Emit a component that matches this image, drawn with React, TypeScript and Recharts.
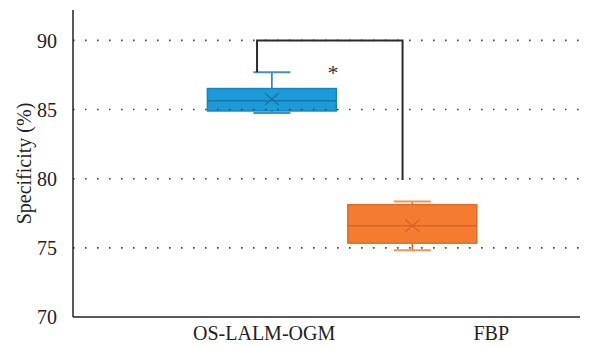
import React from "react";
import {
  ComposedChart,
  Bar,
  Scatter,
  XAxis,
  YAxis,
  ReferenceLine,
  ReferenceDot,
} from "recharts";

// groups and their five-number summaries (Specificity, %)
const categories = ["OS-LALM-OGM", "FBP"];
const boxPos = [3.92, 6.69];
const labelPos = [3.77, 8.25];
const whiskerLow = [84.76, 74.83];
const q1 = [84.9, 75.34];
const median = [85.63, 76.59];
const q3 = [86.52, 78.12];
const whiskerHigh = [87.7, 78.36];
const mean = [85.77, 76.6];

const yTicks = [70, 75, 80, 85, 90];
const gridLines = [75, 80, 85, 90];

// significance bracket between the two groups
const bracketX = [3.63, 3.63, 6.5, 6.5];
const bracketY = [87.7, 90, 90, 79.9];
const star = { x: 5.13, y: 87.7 };

const palette = [
  { fill: "#1b9bd8", edge: "#1784c0", dark: "#1a72a8", cap: "#3a93c8" },
  { fill: "#f47c30", edge: "#de6d28", dark: "#d2642a", cap: "#f0935c" },
];

const data = categories.map((name, i) => ({
  name,
  x: boxPos[i],
  lo: whiskerLow[i],
  q1: q1[i],
  med: median[i],
  q3: q3[i],
  hi: whiskerHigh[i],
  mean: mean[i],
  idx: i,
}));

const bracket = bracketX.map((x, i) => ({ x, y: bracketY[i] }));

const FONT = "'Liberation Serif', serif";
const BOX_W = 129;

function BoxShape(props: any) {
  const { x, y, width, height, payload } = props;
  if (!payload) return null;
  const top = Math.min(y, y + height);
  const h = Math.abs(height);
  const span = payload.hi - payload.lo;
  const py = (v: number) => top + ((payload.hi - v) / span) * h;
  const c = palette[payload.idx];
  const cx = x + width / 2;
  const bx = cx - BOX_W / 2;
  const capW = 37;
  const m = py(payload.mean);
  return (
    <g>
      <line x1={cx} x2={cx} y1={py(payload.hi)} y2={py(payload.q3)} stroke={c.dark} strokeWidth={1.5} />
      <line x1={cx} x2={cx} y1={py(payload.q1)} y2={py(payload.lo)} stroke={c.dark} strokeWidth={1.5} />
      <line x1={cx - capW / 2} x2={cx + capW / 2} y1={py(payload.hi)} y2={py(payload.hi)} stroke={c.cap} strokeWidth={2} />
      <line x1={cx - capW / 2} x2={cx + capW / 2} y1={py(payload.lo)} y2={py(payload.lo)} stroke={c.cap} strokeWidth={2} />
      <rect
        x={bx}
        y={py(payload.q3)}
        width={BOX_W}
        height={py(payload.q1) - py(payload.q3)}
        fill={c.fill}
        stroke={c.edge}
        strokeWidth={1.5}
      />
      <line x1={bx} x2={bx + BOX_W} y1={py(payload.med)} y2={py(payload.med)} stroke={c.dark} strokeWidth={1.5} />
      <line x1={cx - 7} x2={cx + 7} y1={m - 6} y2={m + 6} stroke={c.dark} strokeWidth={1.3} />
      <line x1={cx - 7} x2={cx + 7} y1={m + 6} y2={m - 6} stroke={c.dark} strokeWidth={1.3} />
    </g>
  );
}

export default function App() {
  return (
    <div
      style={{
        position: "absolute",
        left: 0,
        top: 0,
        width: 595,
        height: 347,
        background: "#fff",
        fontFamily: FONT,
      }}
    >
      <ComposedChart
        width={595}
        height={347}
        data={data}
        margin={{ top: 10, right: 15, bottom: 0, left: 0 }}
        style={{ fontFamily: FONT }}
      >
        <XAxis
          dataKey="x"
          type="number"
          domain={[0, 10]}
          ticks={labelPos}
          tickFormatter={(v: number) => categories[labelPos.indexOf(v)] ?? ""}
          tickLine={false}
          axisLine={{ stroke: "#222", strokeWidth: 1.5 }}
          tick={{ fill: "#222", fontSize: 20, fontFamily: FONT }}
          tickMargin={3}
          height={30}
        />
        <YAxis
          type="number"
          domain={[70, 92.2]}
          ticks={yTicks}
          allowDataOverflow
          tickLine={false}
          axisLine={{ stroke: "#222", strokeWidth: 1.5 }}
          tick={{ fill: "#222", fontSize: 20, fontFamily: FONT }}
          tickMargin={10}
          width={73}
          label={{
            value: "Specificity (%)",
            angle: -90,
            position: "insideLeft",
            dx: 19,
            dy: 0,
            style: { textAnchor: "middle", fill: "#222", fontSize: 20, fontFamily: FONT },
          }}
        />
        <Bar
          dataKey={(d: any) => [d.lo, d.hi]}
          shape={<BoxShape />}
          isAnimationActive={false}
        />
        {gridLines.map((v) => (
          <ReferenceLine
            key={v}
            y={v}
            stroke="#444"
            strokeWidth={1.6}
            strokeDasharray="1.6 10.4"
          />
        ))}
        <Scatter
          data={bracket}
          dataKey="y"
          line={{ stroke: "#2b2b2b", strokeWidth: 2 }}
          lineType="joint"
          shape={() => null}
          isAnimationActive={false}
        />
        <ReferenceDot
          x={star.x}
          y={star.y}
          r={0}
          stroke="none"
          label={{ value: "*", position: "center", fill: "#333", fontSize: 22, fontFamily: FONT }}
        />
      </ComposedChart>
    </div>
  );
}
